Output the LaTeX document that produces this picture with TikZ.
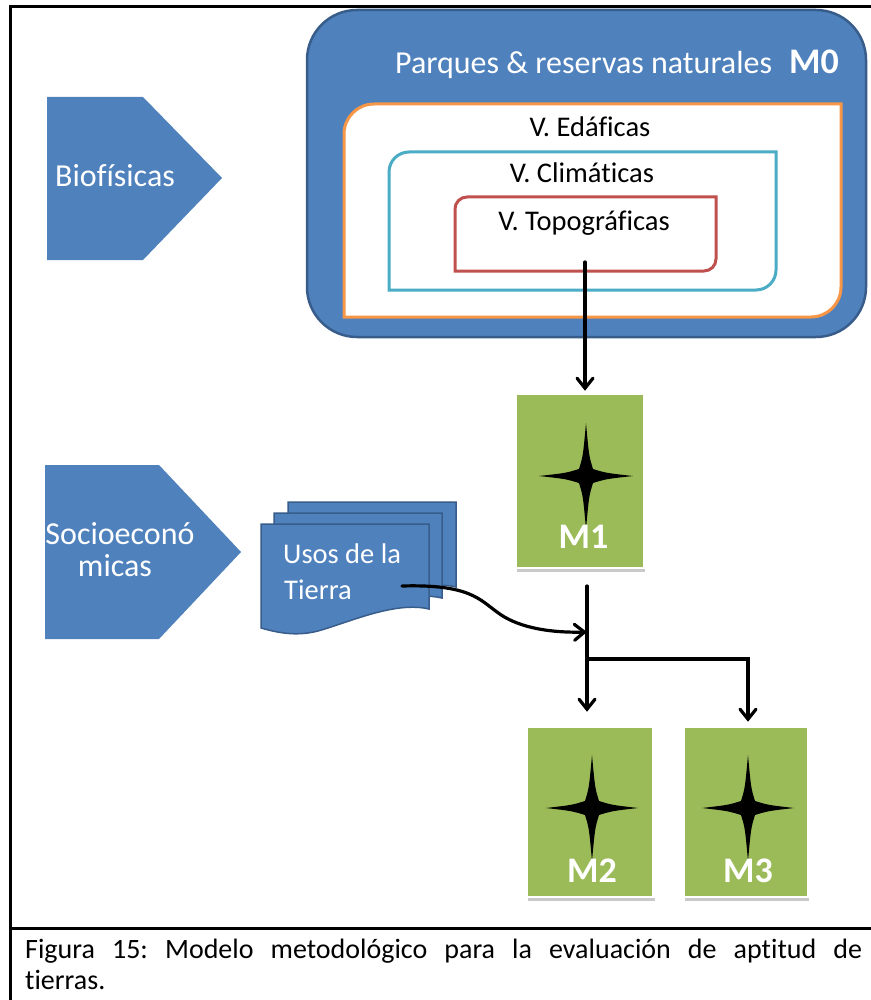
\documentclass[tikz,border=0pt]{standalone}
\usepackage{fontspec}
\setmainfont{Carlito}[Ligatures=NoCommon]
\usetikzlibrary{arrows.meta,shadows}
\definecolor{oblue}{HTML}{4F81BD}
\definecolor{oblued}{HTML}{385D8A}
\definecolor{oorange}{HTML}{F79646}
\definecolor{ocyan}{HTML}{4BACC6}
\definecolor{ored}{HTML}{C0504D}
\definecolor{ogreen}{HTML}{9BBB59}
\newcommand{\fsz}[1]{\fontsize{#1}{#1}\selectfont}
% diagonal rounded rectangle: style, x0, y0 (top), x1, y1 (bottom), radius
\newcommand{\diagrect}[6]{%
  \draw[#1] ({#2+#6},#3) -- (#4,#3) -- (#4,{#5-#6})
    .. controls (#4,{#5-0.448*#6}) and ({#4-0.448*#6},#5) .. ({#4-#6},#5)
    -- (#2,#5) -- (#2,{#3+#6})
    .. controls (#2,{#3+0.448*#6}) and ({#2+0.448*#6},#3) .. ({#2+#6},#3) -- cycle;}
% four point star with slightly concave sides: cx, cy, half width, half height
\newcommand{\quadstar}[4]{%
  \fill[black] (#1,{#2-#4})
    .. controls ({#1+3},{#2-20}) .. ({#1+7},{#2-7})
    .. controls ({#1+20},{#2-3}) .. ({#1+#3},#2)
    .. controls ({#1+20},{#2+3}) .. ({#1+7},{#2+7})
    .. controls ({#1+3},{#2+20}) .. (#1,{#2+#4})
    .. controls ({#1-3},{#2+20}) .. ({#1-7},{#2+7})
    .. controls ({#1-20},{#2+3}) .. ({#1-#3},#2)
    .. controls ({#1-20},{#2-3}) .. ({#1-7},{#2-7})
    .. controls ({#1-3},{#2-20}) .. (#1,{#2-#4}) -- cycle;}
% document shape with wavy bottom, shifted by dx, dy
\newcommand{\docshape}[2]{%
  \draw[docstyle, shift={(#1,#2)}] (261,524) -- (429,524) -- (429,609)
    .. controls (395,601) and (350,622) .. (318,631)
    .. controls (295,637) and (275,632) .. (261,628) -- cycle;}
\tikzset{
  frame/.style={line width=3pt, line cap=rect},
  conn/.style={line width=3.2pt, line cap=round,
    -{Straight Barb[length=10pt,width=16pt,line cap=round]}},
  mbox/.style={fill=ogreen, draw=white, line width=2.5pt, inner sep=0pt,
    drop shadow={shadow xshift=1pt, shadow yshift=-4pt, opacity=0.35, fill=black!60}},
  wlabel/.style={text=white, inner sep=0pt},
  vlabel/.style={text=black, inner sep=0pt, font=\fsz{28.5}},
  mlabel/.style={text=white, inner sep=0pt, font=\bfseries\fsz{36}},
  docstyle/.style={fill=oblue, draw=oblued, line width=1.5pt},
  pentagon/.style={fill=oblue},
  captext/.style={anchor=base west, inner sep=0pt, font=\fsz{28}},
}
\begin{document}
\frenchspacing
\begin{tikzpicture}[x=1pt,y=-1pt]
\useasboundingbox[fill=white] (0,0) rectangle (870,1000);

% outer frame
\draw[frame] (10,1000) -- (10,7) -- (870,7);
\draw[frame] (10,928) -- (870,928);

% M0 block
\node[fill=oblue, draw=oblued, line width=2.5pt, rounded corners=50pt,
  minimum width=559pt, minimum height=327pt, inner sep=0pt] (m0box) at (586.5,173.5) {};
\node[wlabel, anchor=base west, font=\fsz{32}] (parq) at (395,74) {Parques \& reservas naturales};
\node[mlabel, anchor=base west] (m0lab) at (789,74) {M0};

\diagrect{fill=white, draw=oorange, line width=3pt}{344}{104}{841}{317}{30}
\diagrect{draw=ocyan, line width=3pt}{389}{152}{776}{290}{20}
\diagrect{draw=ored, line width=3pt}{455}{197}{716}{271}{12}
\node[vlabel, anchor=base] (edaf) at (590,137) {V. Edáficas};
\node[vlabel, anchor=base] (clim) at (582,183) {V. Climáticas};
\node[vlabel, anchor=base] (topo) at (584,230) {V. Topográficas};
\coordinate (topoout) at (585,262);

% pentagons
\fill[pentagon] (47,97) -- (143,97) -- (222,178) -- (143,260) -- (47,260) -- cycle;
\node[wlabel, anchor=base west, font=\fsz{32}] (bio) at (55,187) {Biofísicas};
\fill[pentagon] (45,465) -- (159,465) -- (241,552) -- (159,639) -- (45,639) -- cycle;
\node[wlabel, anchor=base, font=\fsz{32}] (socio1) at (120,544) {Socioeconó};
\node[wlabel, anchor=base, font=\fsz{32}] (socio2) at (115,576) {micas};

% Usos de la Tierra (multi-document)
\docshape{27}{-22}
\docshape{13}{-11}
\docshape{0}{0}
\node[wlabel, anchor=base west, font=\fsz{28.5}] (usos1) at (283,563) {Usos de la};
\node[wlabel, anchor=base west, font=\fsz{28.5}] (usos2) at (284,599) {Tierra};
\coordinate (usosout) at (402,586);

% M boxes
\node[mbox, minimum width=128pt, minimum height=174pt] (M1) at (580,481) {};
\quadstar{586}{476}{47}{53}
\node[mlabel, anchor=base] (m1lab) at (583.5,548) {M1};

\node[mbox, minimum width=127pt, minimum height=170pt] (M2) at (590,812) {};
\quadstar{592}{808}{46}{53}
\node[mlabel, anchor=base] (m2lab) at (592,882) {M2};

\node[mbox, minimum width=124pt, minimum height=170pt] (M3) at (746,812) {};
\quadstar{748}{808}{46}{53}
\node[mlabel, anchor=base] (m3lab) at (748,882) {M3};

% connectors
\draw[conn] (topoout) -- ([yshift=2pt]topoout |- M1.north);
\coordinate (j0) at (587,586);
\coordinate (j1) at (587,659);
\coordinate (jc) at (587,632);
\draw[conn] (j0) -- ([yshift=14pt]j0 |- M2.north);
\coordinate (m3in) at ([xshift=2pt,yshift=4pt]M3.north);
\draw[conn] (j1) -| (m3in);
\draw[conn] (usosout) .. controls (470,584) and (480,600) .. (497,612)
  .. controls (515,626) and (545,633) .. (jc);

% caption
\node[captext] (cap1) at (25,958)
  {\makebox[837pt][s]{Figura 15: Modelo metodológico para la evaluación de aptitud de}};
\node[captext] (cap2) at (25,989) {tierras.};
\end{tikzpicture}
\end{document}
